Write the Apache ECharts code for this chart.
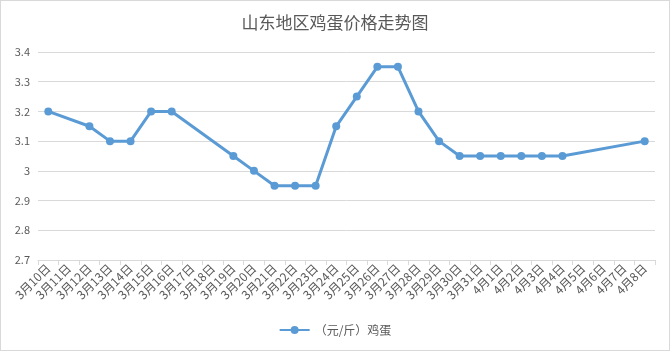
<!DOCTYPE html>
<html><head><meta charset="utf-8">
<script src="https://cdn.jsdelivr.net/npm/echarts@6/dist/echarts.min.js"></script>
<style>html,body{margin:0;padding:0;background:#fff}#c{width:670px;height:351px;box-sizing:border-box;border:1px solid #d9d9d9}</style>
</head><body><div id="c"></div>
<script>
const categories = ['3月10日','3月11日','3月12日','3月13日','3月14日','3月15日','3月16日','3月17日','3月18日','3月19日','3月20日','3月21日','3月22日','3月23日','3月24日','3月25日','3月26日','3月27日','3月28日','3月29日','3月30日','3月31日','4月1日','4月2日','4月3日','4月4日','4月5日','4月6日','4月7日','4月8日'];
const eggPrice = [3.2,null,3.15,3.1,3.1,3.2,3.2,null,null,3.05,3.0,2.95,2.95,2.95,3.15,3.25,3.35,3.35,3.2,3.1,3.05,3.05,3.05,3.05,3.05,3.05,null,null,null,3.1];
const seriesName = '（元/斤）鸡蛋';
const yTicks = {min:2.7, max:3.4, interval:0.1};
const font = '"Noto Sans CJK SC", "Microsoft YaHei", sans-serif';
const chart = echarts.init(document.getElementById('c'));
chart.setOption({
  animation:false,
  title:{text:'山东地区鸡蛋价格走势图', left:'center', top:8, textStyle:{fontFamily:font, fontSize:17, fontWeight:'normal', color:'#595959'}},
  grid:{left:37, right:14, top:51, bottom:90},
  legend:{bottom:9, left:'center', itemWidth:30, itemHeight:10, textStyle:{fontFamily:font, fontSize:12, color:'#595959'}, data:[seriesName]},
  xAxis:{type:'category', data:categories, boundaryGap:true,
    axisLine:{lineStyle:{color:'#d9d9d9'}},
    axisTick:{show:true, alignWithLabel:false, length:5, lineStyle:{color:'#d9d9d9'}},
    axisLabel:{rotate:45, interval:0, fontFamily:font, fontSize:12, color:'#595959', margin:6}},
  yAxis:{type:'value', min:yTicks.min, max:yTicks.max, interval:yTicks.interval,
    axisLine:{show:false}, axisTick:{show:false},
    splitLine:{lineStyle:{color:'#d9d9d9'}},
    axisLabel:{fontFamily:font, fontSize:11, color:'#595959', margin:8,
      formatter:v=>String(Math.round(v*10)/10)}},
  series:[{name:seriesName, type:'line', data:eggPrice, connectNulls:true,
    symbol:'circle', symbolSize:8,
    itemStyle:{color:'#5b9bd5'}, lineStyle:{color:'#5b9bd5', width:3}}]
});
</script></body></html>
